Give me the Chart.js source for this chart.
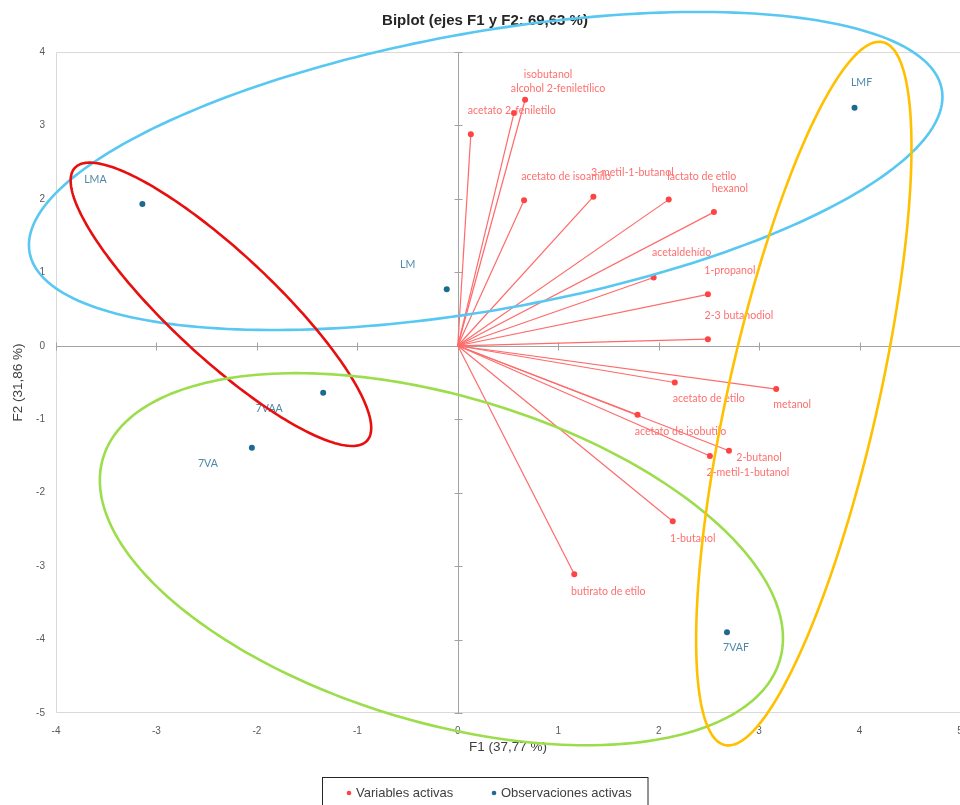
<!DOCTYPE html>
<html>
<head>
<meta charset="utf-8">
<script src="https://cdn.jsdelivr.net/npm/chart.js@4.4.1/dist/chart.umd.min.js"></script>
<style>
  html, body { margin: 0; padding: 0; background: #ffffff; overflow: hidden; }
  #wrap { width: 960px; height: 805px; position: relative; overflow: hidden; }
</style>
</head>
<body>
<div id="wrap"><canvas id="biplot" width="964" height="805"></canvas></div>
<script>
// Active variables (loadings on F1 / F2)
const varNames = [
  'isobutanol', 'alcohol 2-feniletílico', 'acetato 2-feniletilo', 'acetato de isoamilo',
  '3-metil-1-butanol', 'lactato de etilo', 'hexanol', 'acetaldehído', '1-propanol',
  '2-3 butanodiol', 'acetato de etilo', 'metanol', 'acetato de isobutilo', '2-butanol',
  '2-metil-1-butanol', '1-butanol', 'butirato de etilo'
];
const varF1 = [0.67, 0.56, 0.13, 0.66, 1.35, 2.10, 2.55, 1.95, 2.49, 2.49, 2.16, 3.17, 1.79, 2.70, 2.51, 2.14, 1.16];
const varF2 = [3.35, 3.17, 2.88, 1.98, 2.03, 1.99, 1.82, 0.93, 0.70, 0.09, -0.50, -0.59, -0.94, -1.43, -1.50, -2.39, -3.11];

// Active observations (scores on F1 / F2)
const obsNames = ['LMF', 'LMA', 'LM', '7VAA', '7VA', '7VAF'];
const obsF1 = [3.95, -3.14, -0.11, -1.34, -2.05, 2.68];
const obsF2 = [3.24, 1.93, 0.77, -0.64, -1.39, -3.90];

// Axis ticks
const xTicks = [-4, -3, -2, -1, 0, 1, 2, 3, 4, 5];
const yTicks = [-5, -4, -3, -2, -1, 0, 1, 2, 3, 4];

// Label placement (pixel offset of the label centre from its point)
const varLabelOffsets = [
  [23, -25], [44, -24], [41, -24], [42, -24], [39, -24], [33, -23], [16, -24], [28, -25], [22, -24],
  [31, -24], [34, 16], [16, 15], [43, 17], [30, 7], [38, 17], [20, 17], [34, 17]
];
const obsLabelOffsets = [[7, -25], [-47, -24], [-39, -25], [-54, 16], [-44, 16], [9, 15]];

// Group outlines: centre and two conjugate semi-axis vectors, in F1/F2 units
const groupOutlines = [
  { color: '#58c8f2', c: [0.278, 2.38],   u: [4.541, 1.109],  v: [0.242, -1.860] },
  { color: '#e80f0f', c: [-2.358, 0.565], u: [1.454, -1.858], v: [-0.353, -0.518] },
  { color: '#9cdd4c', c: [-0.163, -2.906], u: [3.369, -1.376], v: [-0.462, -2.127] },
  { color: '#ffc000', c: [3.445, -0.651], u: [0.729, -0.225], v: [-0.786, -4.785] }
];

const RED_PT = '#ff4242';
const BLUE_PT = '#1d6a90';
const RED_TXT = '#ff6f6f';
const BLUE_TXT = '#4f87a8';

const decor = {
  id: 'biplotDecor',
  beforeDatasetsDraw(chart) {
    const { ctx, chartArea: a, scales: { x, y } } = chart;
    ctx.save();
    // plot frame
    ctx.strokeStyle = '#d9d9d9';
    ctx.lineWidth = 1;
    ctx.beginPath();
    ctx.moveTo(a.right + 2, Math.round(a.top) + 0.5);
    ctx.lineTo(Math.round(a.left) + 0.5, Math.round(a.top) + 0.5);
    ctx.lineTo(Math.round(a.left) + 0.5, Math.round(a.bottom) - 0.5);
    ctx.lineTo(a.right + 2, Math.round(a.bottom) - 0.5);
    ctx.stroke();
    // axes through the origin, with cross tick marks
    const x0 = Math.round(x.getPixelForValue(0)) + 0.5;
    const y0 = Math.round(y.getPixelForValue(0)) + 0.5;
    ctx.strokeStyle = '#a3a3a3';
    ctx.beginPath();
    ctx.moveTo(a.left, y0); ctx.lineTo(a.right + 2, y0);
    ctx.moveTo(x0, a.top); ctx.lineTo(x0, a.bottom);
    yTicks.forEach(v => {
      if (v === 0) return;
      const p = Math.round(y.getPixelForValue(v)) + 0.5;
      ctx.moveTo(x0 - 4, p); ctx.lineTo(x0 + 4, p);
    });
    xTicks.forEach(v => {
      if (v === 0) return;
      const p = Math.round(x.getPixelForValue(v)) + 0.5;
      ctx.moveTo(p, y0 - 4); ctx.lineTo(p, y0 + 4);
    });
    ctx.stroke();
    // variable vectors from the origin
    const ox = x.getPixelForValue(0), oy = y.getPixelForValue(0);
    ctx.strokeStyle = '#ff6a6a';
    ctx.lineWidth = 1.2;
    chart.getDatasetMeta(0).data.forEach(pt => {
      ctx.beginPath();
      ctx.moveTo(ox, oy);
      ctx.lineTo(pt.x, pt.y);
      ctx.stroke();
    });
    ctx.restore();
  },
  afterDatasetsDraw(chart) {
    const { ctx } = chart;
    ctx.save();
    ctx.font = '10.6px Lato';
    ctx.textAlign = 'center';
    ctx.textBaseline = 'middle';
    ctx.fillStyle = RED_TXT;
    chart.getDatasetMeta(0).data.forEach((pt, i) => {
      const o = varLabelOffsets[i];
      ctx.fillText(varNames[i], pt.x + o[0], pt.y + o[1]);
    });
    ctx.fillStyle = BLUE_TXT;
    chart.getDatasetMeta(1).data.forEach((pt, i) => {
      const o = obsLabelOffsets[i];
      ctx.fillText(obsNames[i], pt.x + o[0], pt.y + o[1]);
    });
    ctx.restore();
  },
  afterDraw(chart) {
    const { ctx, scales: { x, y } } = chart;
    ctx.save();
    // title
    ctx.font = 'bold 15px "Liberation Sans"';
    ctx.fillStyle = '#262626';
    ctx.textAlign = 'center';
    ctx.textBaseline = 'middle';
    ctx.fillText('Biplot (ejes F1 y F2: 69,63 %)', 485, 21);
    // group outlines
    ctx.lineWidth = 2.6;
    groupOutlines.forEach(g => {
      ctx.strokeStyle = g.color;
      ctx.beginPath();
      const n = 240;
      for (let k = 0; k <= n; k++) {
        const t = (k / n) * Math.PI * 2;
        const dx = g.c[0] + g.u[0] * Math.cos(t) + g.v[0] * Math.sin(t);
        const dy = g.c[1] + g.u[1] * Math.cos(t) + g.v[1] * Math.sin(t);
        const px = x.getPixelForValue(dx), py = y.getPixelForValue(dy);
        if (k === 0) ctx.moveTo(px, py); else ctx.lineTo(px, py);
      }
      ctx.closePath();
      ctx.stroke();
    });
    // legend
    ctx.lineWidth = 1;
    ctx.strokeStyle = '#262626';
    ctx.strokeRect(322.5, 777.5, 325.5, 40);
    ctx.font = '13px "Liberation Sans"';
    ctx.textAlign = 'left';
    ctx.textBaseline = 'middle';
    ctx.fillStyle = RED_PT;
    ctx.beginPath(); ctx.arc(349, 793, 2.3, 0, Math.PI * 2); ctx.fill();
    ctx.fillStyle = BLUE_PT;
    ctx.beginPath(); ctx.arc(494, 793, 2.3, 0, Math.PI * 2); ctx.fill();
    ctx.fillStyle = '#404040';
    ctx.fillText(chart.data.datasets[0].label, 356, 793);
    ctx.fillText(chart.data.datasets[1].label, 501, 793);
    ctx.restore();
  }
};

const tickFont = { family: '"Liberation Sans"', size: 10 };
const axisTitleFont = { family: '"Liberation Sans"', size: 13.5 };

new Chart(document.getElementById('biplot'), {
  type: 'scatter',
  data: {
    datasets: [
      {
        label: 'Variables activas',
        data: varF1.map((v, i) => ({ x: v, y: varF2[i] })),
        backgroundColor: RED_PT, borderColor: RED_PT, pointRadius: 3, borderWidth: 0
      },
      {
        label: 'Observaciones activas',
        data: obsF1.map((v, i) => ({ x: v, y: obsF2[i] })),
        backgroundColor: BLUE_PT, borderColor: BLUE_PT, pointRadius: 3, borderWidth: 0
      }
    ]
  },
  options: {
    responsive: false,
    animation: false,
    events: [],
    layout: { padding: { top: 52, right: 2, left: 0, bottom: 0 } },
    plugins: { legend: { display: false }, tooltip: { enabled: false }, title: { display: false } },
    scales: {
      x: {
        type: 'linear', min: -4, max: 5,
        afterBuildTicks(s) { s.ticks = xTicks.map(v => ({ value: v })); },
        grid: { display: false, drawTicks: false },
        border: { display: false },
        ticks: { color: '#595959', font: tickFont, padding: 12, maxRotation: 0, autoSkip: false },
        title: { display: true, text: 'F1 (37,77 %)', color: '#404040',
                 font: axisTitleFont, padding: { top: 4, bottom: 50 } },
        afterFit(s) { s.height = 92; s.paddingLeft = 0; s.paddingRight = 0; }
      },
      y: {
        type: 'linear', min: -5, max: 4,
        afterBuildTicks(s) { s.ticks = yTicks.map(v => ({ value: v })); },
        grid: { display: false, drawTicks: false },
        border: { display: false },
        ticks: { color: '#595959', font: tickFont, padding: 11, autoSkip: false },
        title: { display: true, text: 'F2 (31,86 %)', color: '#404040',
                 font: axisTitleFont, padding: { top: 10, bottom: 0 } },
        afterFit(s) { s.width = 56; s.paddingTop = 0; s.paddingBottom = 0; }
      }
    }
  },
  plugins: [decor]
});
</script>
</body>
</html>
